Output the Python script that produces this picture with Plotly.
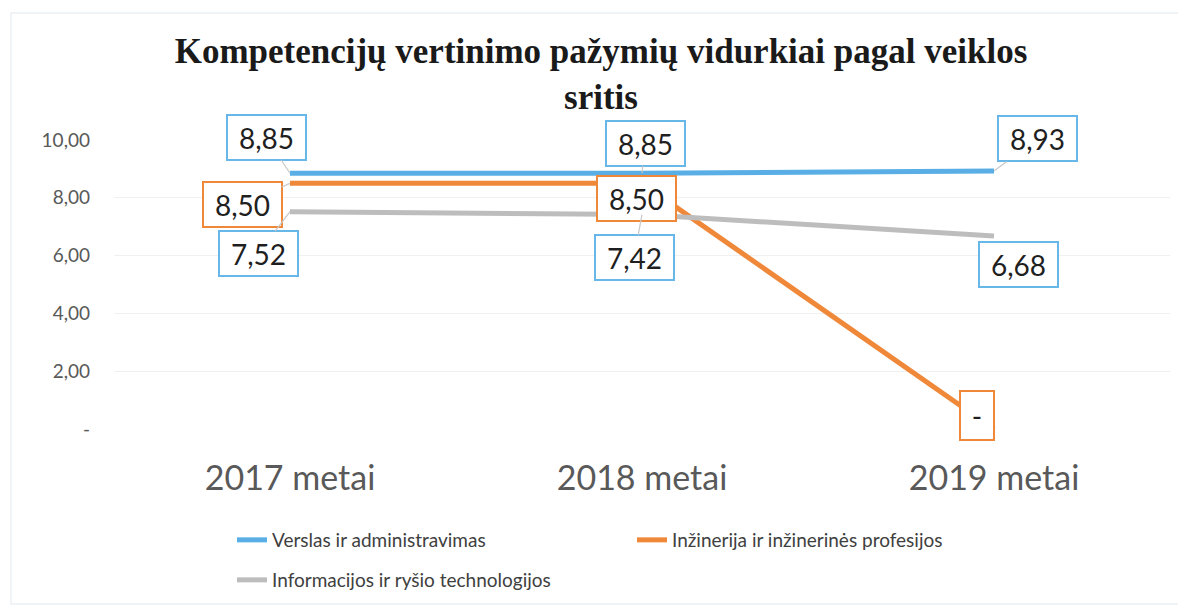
import plotly.graph_objects as go

categories = ["2017 metai", "2018 metai", "2019 metai"]
series_names = [
    "Verslas ir administravimas",
    "Inžinerija ir inžinerinės profesijos",
    "Informacijos ir ryšio technologijos",
]
verslas = [8.85, 8.85, 8.93]
inzinerija = [8.50, 8.50, 0.0]
informacijos = [7.52, 7.42, 6.68]
y_tickvals = [0, 2, 4, 6, 8, 10]
y_ticktext = ["-", "2,00", "4,00", "6,00", "8,00", "10,00"]
title_line1 = "Kompetencijų vertinimo pažymių vidurkiai pagal veiklos"
title_line2 = "sritis"

# styles
line_colors = ["#5AAEE6", "#F0883A", "#BDBDBD"]
box_colors = ["#67B7E8", "#F0883A", "#67B7E8"]
# label offsets (pixels, box centre relative to point)
offsets = [
    [(-24, -36), (3, -30), (43, -32)],
    [(-48, 21), (-6, 15), (-17, -14)],
    [(-32, 42), (-8, 43), (24, 29)],
]
leaders = [
    [True, True, True],
    [True, False, False],
    [True, True, False],
]

# the page adds an 8px body margin, so the figure is laid out 8px smaller
W, H = 1178, 600
PL, PR, PT, PB = 106, 16, 132, 179
PW, PH = W - PL - PR, H - PT - PB


def fmt(v):
    if v == 0:
        return "-"
    return f"{v:.2f}".replace(".", ",")


all_series = [verslas, inzinerija, informacijos]
fig = go.Figure()
legends = ["legend", "legend", "legend2"]
for i, (name, vals) in enumerate(zip(series_names, all_series)):
    fig.add_trace(go.Scatter(
        x=categories, y=vals, name=name, mode="lines",
        line=dict(color=line_colors[i], width=5),
        legend=legends[i],
    ))

annotations = []
for i, vals in enumerate(all_series):
    for j, v in enumerate(vals):
        txt = fmt(v)
        ax, ay = offsets[i][j]
        small = txt == "-"
        annotations.append(dict(
            x=categories[j], y=v, xref="x", yref="y",
            text=txt, showarrow=True, ax=ax, ay=ay,
            arrowhead=0, arrowwidth=1.2,
            arrowcolor="#C8C8C8" if leaders[i][j] else "rgba(0,0,0,0)",
            standoff=0,
            font=dict(family="Lato", size=28, color="#1F1F1F"),
            bgcolor="white", bordercolor=box_colors[i], borderwidth=2,
            borderpad=3, width=26 if small else 71, height=41 if small else 37,
            align="center", valign="middle",
        ))

fig.update_layout(
    width=W, height=H,
    margin=dict(l=PL, r=PR, t=PT, b=PB, autoexpand=False),
    paper_bgcolor="white", plot_bgcolor="white",
    title=dict(
        text=title_line1 + "<br>" + title_line2, x=593 / W, xanchor="center",
        y=1 - 55 / H, yanchor="middle", yref="container",
        font=dict(family="Liberation Serif", size=35, color="#1A1A1A", weight="bold"),
        automargin=False,
    ),
    xaxis=dict(
        type="category", range=[-0.5, 2.5], showgrid=False, zeroline=False,
        showline=False, ticks="", automargin=False,
        tickfont=dict(family="Lato", size=34, color="#595959"),
        ticklabelstandoff=26,
    ),
    yaxis=dict(
        range=[0, 10], tickvals=y_tickvals, ticktext=y_ticktext,
        showgrid=True, gridcolor="#F0F0F0", gridwidth=1,
        zeroline=False, showline=False, ticks="", automargin=False,
        tickfont=dict(family="Lato", size=19, color="#595959"),
        ticklabelstandoff=23,
    ),
    legend=dict(
        orientation="h", xref="container", yref="container",
        x=224 / W, y=1 - 532 / H, xanchor="left", yanchor="middle",
        font=dict(family="Lato", size=19, color="#404040"),
        entrywidth=355, entrywidthmode="pixels", bgcolor="rgba(0,0,0,0)",
    ),
    legend2=dict(
        orientation="h", xref="container", yref="container",
        x=224 / W, y=1 - 572 / H, xanchor="left", yanchor="middle",
        font=dict(family="Lato", size=19, color="#404040"),
        bgcolor="rgba(0,0,0,0)",
    ),
    annotations=annotations,
    shapes=[dict(
        type="rect", xref="paper", yref="paper",
        x0=(3 - PL) / PW, x1=(1172 - PL) / PW,
        y0=(PT + PH - 596) / PH, y1=(PT + PH - 5) / PH,
        line=dict(color="#EDF1F4", width=1.5), layer="below",
    )],
    showlegend=True,
)

fig.write_html("out.html")
